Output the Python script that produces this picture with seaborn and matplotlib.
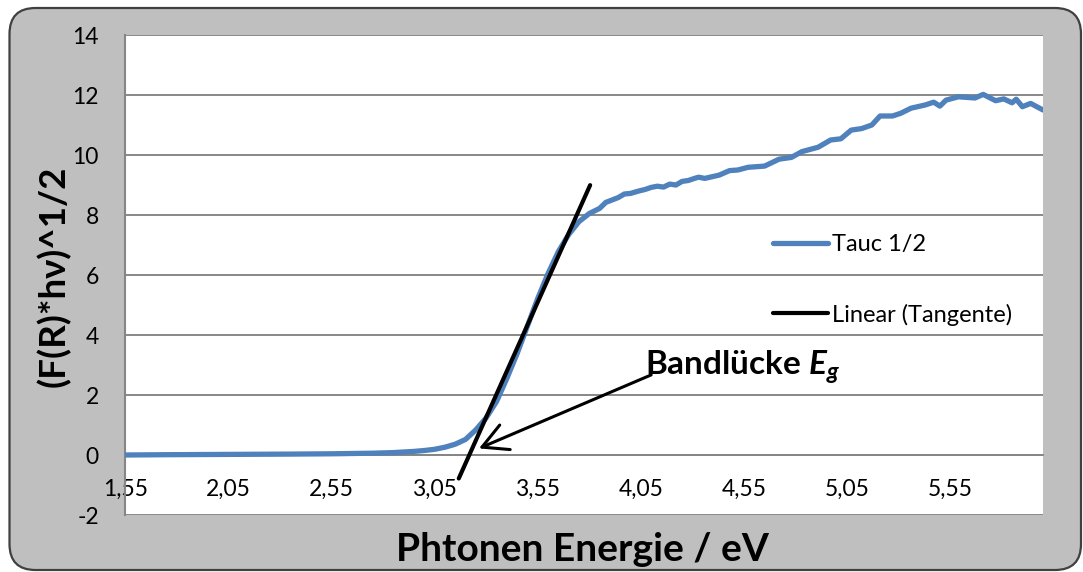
import numpy as np
import pandas as pd
import matplotlib
matplotlib.use("Agg")
import matplotlib.pyplot as plt
from matplotlib.patches import FancyBboxPatch
from matplotlib.ticker import FixedLocator, FixedFormatter, MultipleLocator
import seaborn as sns

# ---------------- data ----------------
energy = [1.55, 1.75, 2.05, 2.35, 2.55, 2.75, 2.85, 2.95, 3.00, 3.05, 3.10, 3.15, 3.20,
          3.25, 3.30, 3.35, 3.40, 3.45, 3.50, 3.55, 3.60, 3.65, 3.70, 3.75, 3.80, 3.85,
          3.88, 3.91, 3.94, 3.97, 4.00, 4.04, 4.07, 4.10, 4.13, 4.16, 4.19, 4.22, 4.25,
          4.28, 4.31, 4.33, 4.36, 4.43, 4.48, 4.52, 4.57, 4.65, 4.72, 4.78, 4.83, 4.91,
          4.97, 5.02, 5.07, 5.12, 5.17, 5.21, 5.27, 5.31, 5.36, 5.43, 5.47, 5.50, 5.53,
          5.59, 5.67, 5.71, 5.77, 5.81, 5.85, 5.87, 5.90, 5.94, 6.00]
tauc = [0.00, 0.01, 0.02, 0.03, 0.04, 0.06, 0.08, 0.12, 0.15, 0.19, 0.26, 0.36, 0.52,
        0.84, 1.24, 1.78, 2.55, 3.38, 4.30, 5.22, 6.05, 6.78, 7.35, 7.78, 8.05, 8.22,
        8.42, 8.50, 8.58, 8.70, 8.72, 8.80, 8.85, 8.92, 8.96, 8.93, 9.03, 9.00, 9.12,
        9.15, 9.22, 9.26, 9.22, 9.33, 9.48, 9.50, 9.59, 9.63, 9.86, 9.92, 10.11, 10.26,
        10.50, 10.54, 10.83, 10.88, 11.00, 11.30, 11.30, 11.39, 11.56, 11.67, 11.76, 11.63, 11.83,
        11.94, 11.90, 12.02, 11.81, 11.87, 11.74, 11.86, 11.61, 11.72, 11.50]

# linear tangent: y = slope * (x - x_intercept)
tangent_slope = 15.35
tangent_intercept_x = 3.218
tangent_x = [3.167, 3.804]

series_labels = ["Tauc 1/2", "Linear (Tangente)"]
x_ticks = [1.55, 2.05, 2.55, 3.05, 3.55, 4.05, 4.55, 5.05, 5.55]
x_tick_labels = ["1,55", "2,05", "2,55", "3,05", "3,55", "4,05", "4,55", "5,05", "5,55"]
y_ticks = [-2, 0, 2, 4, 6, 8, 10, 12, 14]
y_tick_labels = ["-2", "0", "2", "4", "6", "8", "10", "12", "14"]
x_label = "Phtonen Energie / eV"
y_label = "(F(R)*hν)^1/2"
annot_text = r"Bandlücke $\mathbfit{E}_\mathbfit{g}$"
arrow_tip = (3.265, 0.22)
arrow_tail = (4.10, 2.67)

# ---------------- style ----------------
sns.set_style("white")
plt.rcParams["font.family"] = ["Lato", "DejaVu Sans"]
plt.rcParams["mathtext.fontset"] = "custom"
plt.rcParams["mathtext.rm"] = "Lato"
plt.rcParams["mathtext.it"] = "Lato:italic"
plt.rcParams["mathtext.bf"] = "Lato:bold"
plt.rcParams["mathtext.bfit"] = "Lato:bold:italic"
plt.rcParams["axes.unicode_minus"] = False
plt.rcParams["text.color"] = "black"
plt.rcParams["axes.labelcolor"] = "black"
plt.rcParams["xtick.color"] = "black"
plt.rcParams["ytick.color"] = "black"

W, H = 1083, 572
fig = plt.figure(figsize=(W / 100, H / 100), dpi=100, facecolor="white")

# rounded grey chart background
bg = FancyBboxPatch((9.5 / 100, (H - 570) / 100), (1081 - 9.5) / 100, (570 - 8) / 100,
                    boxstyle="round,pad=0,rounding_size=0.26",
                    transform=fig.dpi_scale_trans, facecolor="#BFBFBF",
                    edgecolor="#404040", linewidth=1.6, zorder=-5)
fig.add_artist(bg)

left, right, top, bottom = 125.3, 1043, 35, 515
ax = fig.add_axes([left / W, (H - bottom) / H, (right - left) / W, (bottom - top) / H])
ax.set_facecolor("white")

df = pd.DataFrame({"energy": energy, "tauc": tauc})
tan_y = [tangent_slope * (x - tangent_intercept_x) for x in tangent_x]
df_tan = pd.DataFrame({"energy": tangent_x, "tauc": tan_y})

sns.lineplot(data=df, x="energy", y="tauc", ax=ax, color="#4F81BD", linewidth=3.8,
             label=series_labels[0], zorder=3, solid_capstyle="round")
sns.lineplot(data=df_tan, x="energy", y="tauc", ax=ax, color="black", linewidth=3.0,
             label=series_labels[1], zorder=4)

ax.set_xlim(1.55, 6.0)
ax.set_ylim(-2, 14)

# grid
ax.yaxis.set_major_locator(FixedLocator(y_ticks))
ax.yaxis.set_major_formatter(FixedFormatter(y_tick_labels))
ax.grid(axis="y", color="#7F7F7F", linewidth=1.3, zorder=0)
ax.grid(axis="x", visible=False)
ax.set_axisbelow(True)

# spines
for s in ["top", "right"]:
    ax.spines[s].set_visible(False)
ax.spines["left"].set_color("#868686")
ax.spines["left"].set_linewidth(1.5)
ax.spines["bottom"].set_position(("data", 0))
ax.spines["bottom"].set_color("#868686")
ax.spines["bottom"].set_linewidth(1.3)
ax.spines["bottom"].set_zorder(2)

ax.xaxis.set_major_locator(FixedLocator(x_ticks))
ax.xaxis.set_major_formatter(FixedFormatter(x_tick_labels))
ax.xaxis.set_minor_locator(MultipleLocator(0.1))
ax.xaxis.remove_overlapping_locs = False
ax.tick_params(axis="x", which="major", direction="out", length=7, width=1.3,
               color="#868686", labelsize=16.5, pad=10, labelcolor="black")
ax.tick_params(axis="x", which="minor", direction="in", length=3, width=1.1,
               color="#868686")
ax.tick_params(axis="y", which="major", length=0, labelsize=16.5, pad=19,
               labelcolor="black")

ax.set_xlabel("")
ax.set_ylabel("")

# legend
leg = ax.legend(loc="upper left", bbox_to_anchor=((773 - left) / (right - left), (bottom - 234) / (bottom - top)),
                frameon=False, fontsize=17, handlelength=2.33, handletextpad=0.15,
                labelspacing=2.06, borderpad=0, borderaxespad=0)
for line in leg.get_lines():
    line.set_solid_capstyle("round")

# axis titles
fig.text(582 / W, (H - 560.7) / H, x_label, ha="center", va="baseline",
         fontsize=28, fontweight="bold")
fig.text(65 / W, (H - 276.7) / H, y_label, ha="center", va="baseline",
         rotation=90, rotation_mode="anchor", fontsize=26.5, fontweight="bold")

# annotation
ax.annotate("", xy=arrow_tip, xytext=arrow_tail,
            arrowprops=dict(arrowstyle="->,head_length=0.6,head_width=0.32",
                            color="black", lw=2.2, mutation_scale=30,
                            shrinkA=0, shrinkB=0), zorder=6)
ax.text(arrow_tail[0] - 0.03, arrow_tail[1], annot_text, fontsize=24,
        fontweight="bold", ha="left", va="baseline", zorder=6)

fig.savefig("out.png", dpi=100, facecolor="white")
